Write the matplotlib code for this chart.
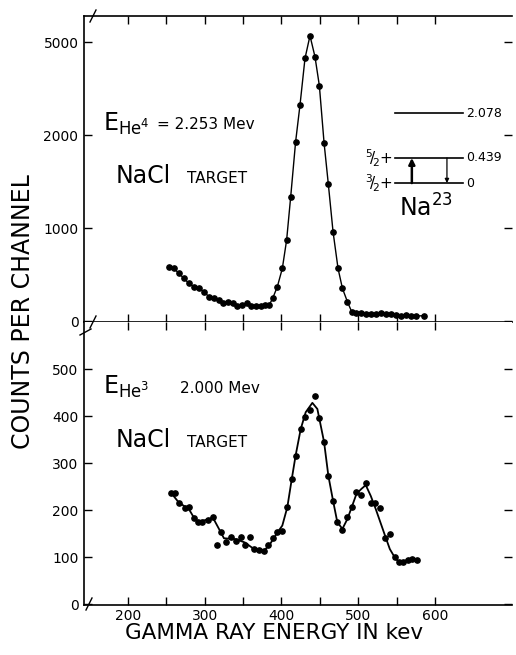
import matplotlib.pyplot as plt
from matplotlib.lines import Line2D

plt.rcParams['font.family'] = ['DejaVu Sans']
plt.rcParams['mathtext.fontset'] = 'dejavusans'

# top panel: He4 beam 2.253 Mev on NaCl
he4_energy = [253.4, 260.0, 266.4, 273.0, 279.5, 286.0, 292.5, 299.0, 305.5, 312.0,
              318.6, 324.5, 330.5, 336.5, 342.5, 348.5, 354.5, 360.5, 366.5, 372.9,
              379.0, 384.0, 388.5, 394.6, 401.1, 406.7, 412.0, 418.4, 424.1, 430.6,
              437.1, 443.6, 449.3, 455.4, 461.0, 467.1, 473.6, 479.3, 485.8, 491.4,
              496.6, 503.2, 509.7, 516.2, 522.7, 529.2, 535.7, 542.2, 548.8, 555.3,
              561.8, 568.3, 574.8, 585.7]
he4_counts = [584, 566, 513, 459, 405, 369, 352, 316, 262, 244,
              226, 190, 208, 197, 162, 172, 190, 165, 162, 165,
              172, 172, 244, 369, 566, 871, 1337, 1928, 2323, 2824,
              3068, 2842, 2531, 1918, 1470, 961, 566, 352, 208, 100,
              90, 83, 72, 76, 72, 83, 76, 72, 65, 58,
              65, 58, 54, 58]

# bottom panel: He3 beam 2.000 Mev on NaCl
he3_energy = [255.6, 261.2, 266.4, 273.8, 279.5, 286.0, 291.6, 296.8, 304.2, 310.7,
              315.5, 321.6, 328.1, 333.8, 340.3, 346.8, 352.4, 359.0, 364.2, 370.7,
              377.2, 382.8, 388.9, 394.6, 401.1, 407.6, 413.2, 418.4, 425.0, 430.2,
              436.7, 443.2, 449.3, 455.4, 461.0, 467.1, 472.7, 479.3, 485.8, 491.4,
              497.5, 504.0, 510.5, 516.2, 521.8, 527.9, 534.9, 540.9, 547.5, 553.1,
              558.7, 564.8, 570.5, 576.1]
he3_counts = [236, 236, 216, 204, 206, 184, 174, 175, 179, 186,
              126, 154, 131, 142, 135, 142, 126, 143, 117, 116,
              113, 126, 140, 154, 155, 206, 265, 316, 372, 397,
              413, 443, 395, 345, 273, 220, 174, 158, 186, 206,
              238, 232, 257, 216, 216, 204, 140, 149, 101, 89,
              89, 94, 96, 94]

# smooth curve drawn through the He3 spectrum
fit_energy = [255.6, 266.4, 279.5, 286.0, 291.6, 304.2, 310.7, 318.6, 325.1, 340.3,
              352.4, 364.2, 377.2, 383.7, 394.6, 401.1, 407.6, 413.2, 418.4, 425.0,
              431.5, 440.2, 446.7, 455.4, 461.0, 467.1, 472.7, 479.3, 485.8, 491.4,
              497.5, 504.0, 509.7, 516.2, 522.7, 534.9, 541.0, 547.5, 553.1, 564.8,
              577.0]
fit_counts = [238, 216, 202, 184, 175, 180, 184, 160, 140, 138,
              131, 117, 114, 124, 152, 167, 206, 264, 316, 372,
              408, 428, 415, 345, 273, 220, 174, 160, 181, 206,
              234, 245, 253, 230, 202, 145, 117, 99, 89, 94,
              96]

xticks = [200, 250, 300, 350, 400, 450, 500, 550, 600]
xticklabels = ['200', '', '300', '', '400', '', '500', '', '600']
top_yticks = [0, 1000, 2000, 3000]
top_yticklabels = ['0', '1000', '2000', '5000']
bot_yticks = [0, 100, 200, 300, 400, 500]

fig = plt.figure(figsize=(5.16, 6.55), dpi=100)
ax1 = fig.add_axes([84 / 516, 1 - 322 / 655, 428 / 516, 306 / 655])
ax2 = fig.add_axes([84 / 516, 1 - 605 / 655, 428 / 516, 283 / 655])

for ax in (ax1, ax2):
    ax.set_xlim(143, 700)
    ax.set_xticks(xticks)
    ax.spines['right'].set_visible(False)
    for s in ('left', 'top', 'bottom'):
        ax.spines[s].set_linewidth(1.2)
    ax.tick_params(axis='both', direction='in', length=6, width=1.0,
                   labelsize=10, right=True, pad=4)

ax1.set_ylim(-10, 3280)
ax1.set_yticks(top_yticks)
ax1.set_yticklabels(top_yticklabels)
ax1.tick_params(axis='x', top=True, labelbottom=False)
ax1.plot(he4_energy, he4_counts, '-o', color='black', lw=1.0, ms=3.8)

ax2.set_ylim(-2, 600)
ax2.set_yticks(bot_yticks)
ax2.set_xticklabels(xticklabels)
ax2.spines['top'].set_visible(False)
ax2.tick_params(axis='x', top=True, pad=3)
ax2.plot(fit_energy, fit_counts, '-', color='black', lw=1.3)
ax2.plot(he3_energy, he3_counts, 'o', color='black', ms=3.8)

# labels inside the panels
ax1.text(0.045, 0.625, r'$\mathrm{E}_{\mathrm{He}^{4}}$', fontsize=17, transform=ax1.transAxes)
ax1.text(0.170, 0.632, '= 2.253 Mev', fontsize=11, transform=ax1.transAxes)
ax1.text(0.073, 0.455, 'NaCl', fontsize=17, transform=ax1.transAxes)
ax1.text(0.240, 0.455, 'TARGET', fontsize=11, transform=ax1.transAxes)

ax2.text(0.045, 0.745, r'$\mathrm{E}_{\mathrm{He}^{3}}$', fontsize=17, transform=ax2.transAxes)
ax2.text(0.224, 0.749, '2.000 Mev', fontsize=11, transform=ax2.transAxes)
ax2.text(0.073, 0.558, 'NaCl', fontsize=17, transform=ax2.transAxes)
ax2.text(0.240, 0.558, 'TARGET', fontsize=11, transform=ax2.transAxes)

# Na23 level scheme
tr = ax1.transAxes
for yl, lab in [(0.683, '2.078'), (0.536, '0.439'), (0.454, '0')]:
    ax1.plot([0.727, 0.886], [yl, yl], color='black', lw=1.2, transform=tr)
    ax1.text(0.893, yl, lab, fontsize=9, va='center', ha='left', transform=tr)
ax1.text(0.722, 0.536, r'$^{5}\!/\!_{2}$+', fontsize=11, va='center', ha='right', transform=tr)
ax1.text(0.722, 0.454, r'$^{3}\!/\!_{2}$+', fontsize=11, va='center', ha='right', transform=tr)
ax1.annotate('', xy=(0.766, 0.536), xytext=(0.766, 0.454), xycoords=tr,
             arrowprops=dict(arrowstyle='-|>', lw=1.8, color='black',
                             mutation_scale=9, shrinkA=0, shrinkB=0))
ax1.annotate('', xy=(0.848, 0.454), xytext=(0.848, 0.536), xycoords=tr,
             arrowprops=dict(arrowstyle='-|>', lw=0.9, color='black',
                             mutation_scale=6, shrinkA=0, shrinkB=0))
ax1.text(0.80, 0.343, r'Na$^{23}$', fontsize=17, ha='center', va='baseline', transform=tr)

# axis break marks
for (x0, y0) in [(93, 16), (93, 322), (89, 604)]:
    fig.add_artist(Line2D([(x0 - 3) / 516, (x0 + 3) / 516],
                          [1 - (y0 + 6) / 655, 1 - (y0 - 6) / 655],
                          color='black', lw=1.0))
fig.add_artist(Line2D([80 / 516, 91 / 516], [1 - 335 / 655, 1 - 329 / 655],
                      color='black', lw=1.0))

fig.text(23 / 516, 1 - 312 / 655, 'COUNTS PER CHANNEL', rotation=90,
         fontsize=17, ha='center', va='center')
fig.text(274 / 516, 1 - 639 / 655, 'GAMMA RAY ENERGY IN kev',
         fontsize=15.5, ha='center', va='baseline')

fig.savefig('out.png', dpi=100)
